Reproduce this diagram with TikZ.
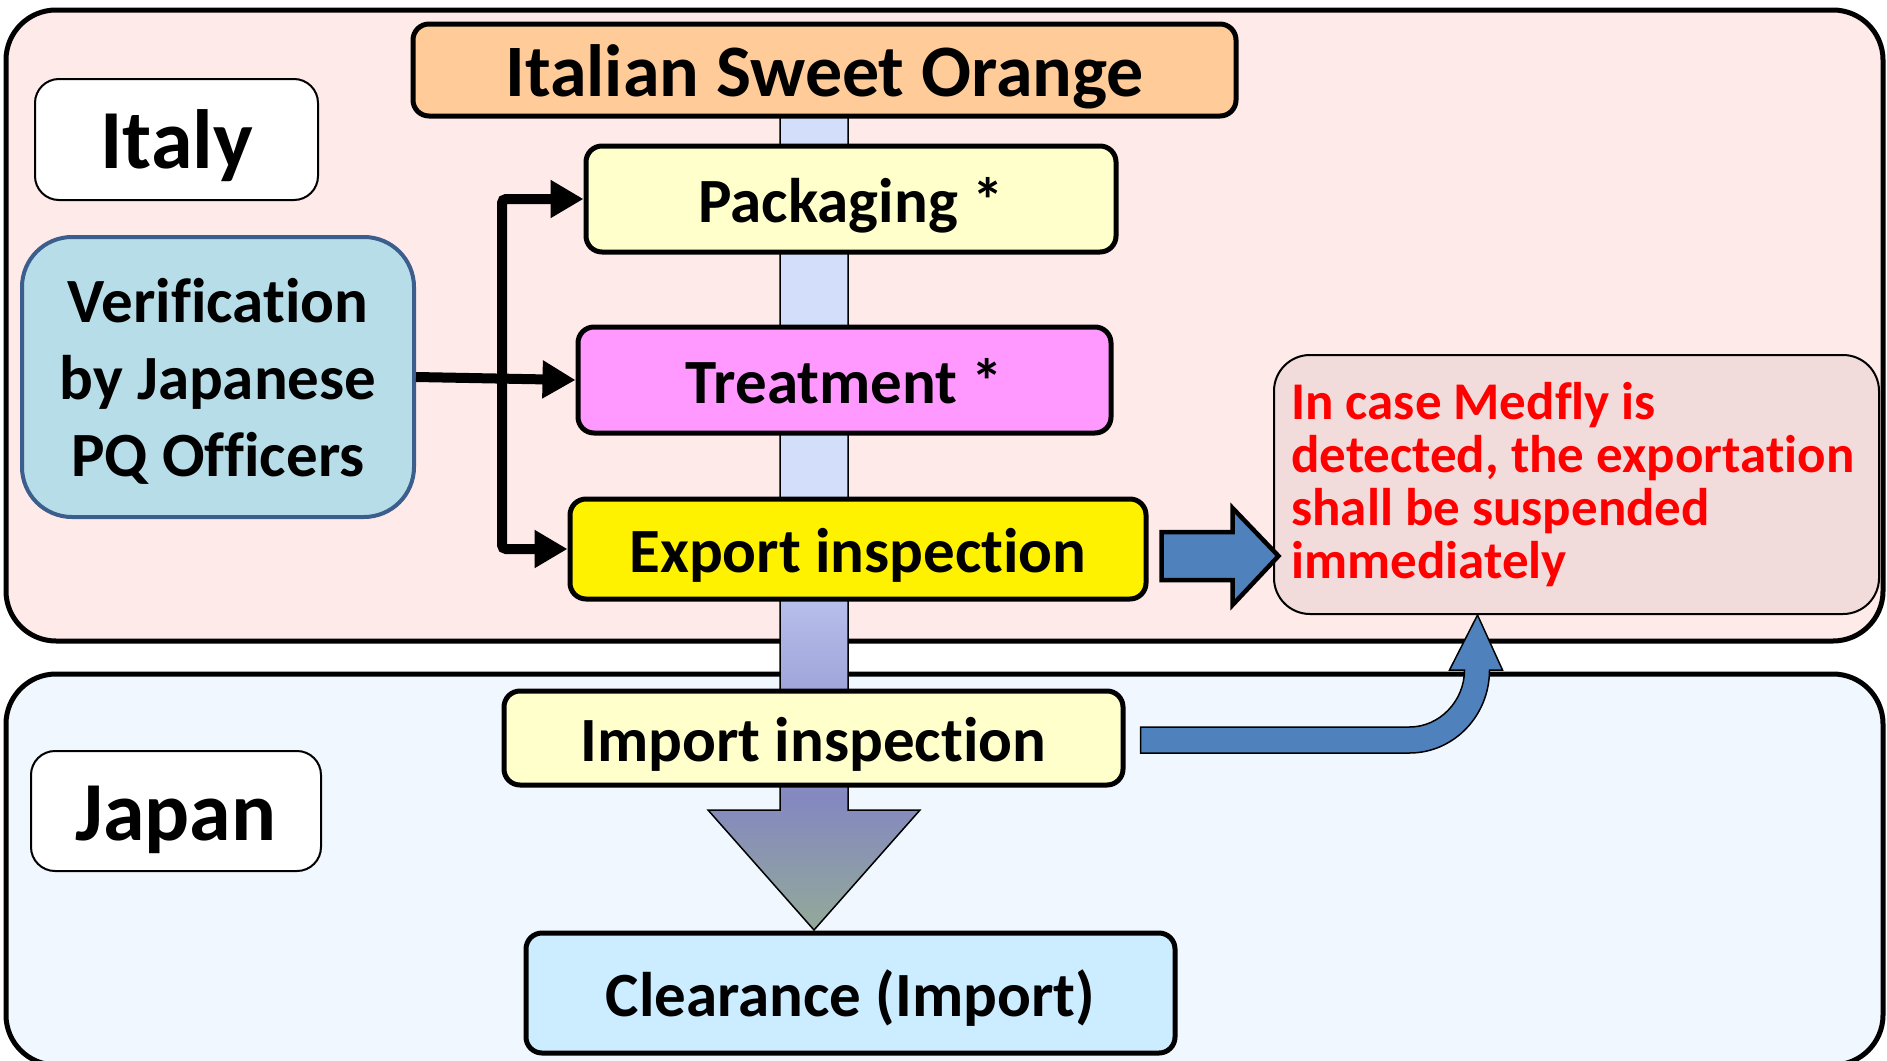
\documentclass[tikz,border=0pt]{standalone}
\usepackage{fontspec}
\setmainfont{Carlito}[Ligatures=NoCommon]
\usetikzlibrary{arrows.meta,calc}
\definecolor{italybg}{HTML}{FFEAEA}
\definecolor{japanbg}{HTML}{F0F7FF}
\definecolor{orangefill}{HTML}{FFCC99}
\definecolor{paleyellow}{HTML}{FFFFCC}
\definecolor{pinkfill}{HTML}{FF99FF}
\definecolor{clearfill}{HTML}{CCECFF}
\definecolor{verifill}{HTML}{B7DEE8}
\definecolor{veriline}{HTML}{3B5E8C}
\definecolor{medflyfill}{HTML}{F2DCDB}
\definecolor{arrowblue}{HTML}{4F81BD}
\definecolor{fsA}{HTML}{93AA98}
\definecolor{fsB}{HTML}{8488C0}
\definecolor{fsC}{HTML}{A0A6DA}
\definecolor{fsD}{HTML}{B8C0EC}
\definecolor{fsE}{HTML}{D2DEFA}
\pgfdeclareverticalshading{flowshade}{100bp}{color(0bp)=(fsA); color(25bp)=(fsA); color(33bp)=(fsB); color(39.75bp)=(fsC); color(45.25bp)=(fsD); color(51.4bp)=(fsE); color(75bp)=(fsE); color(100bp)=(fsE)}
\begin{document}
\begin{tikzpicture}[x=1pt,y=-1pt,
  panel/.style={draw=black, line width=5pt, rounded corners=50pt, inner sep=0pt},
  tag/.style={draw=black, fill=white, line width=2pt, rounded corners=24pt, inner sep=0pt,
    text height=58pt, text depth=0pt, font=\fontsize{84}{100}\selectfont\bfseries},
  stepbox/.style={draw=black, line width=5pt, rounded corners=16pt, inner sep=0pt,
    text height=46pt, text depth=0pt, font=\fontsize{63}{77}\selectfont\bfseries},
  conn/.style={line width=10pt, black, -{Triangle[length=33pt,width=36pt]}},
  blockarrow/.style={fill=arrowblue, draw=black, line join=miter}
]
\useasboundingbox (0,0) rectangle (1887,1060);

% zones
\node[panel, fill=italybg, minimum width=1877pt, minimum height=631pt] (italyzone) at (944.5,325.5) {};
\node[panel, fill=japanbg, minimum width=1877pt, minimum height=391pt] (japanzone) at (944.5,869.5) {};

% zone tags
\node[tag, minimum width=283pt, minimum height=121pt] (italytag) at (176.5,139.5) {Italy};
\node[tag, minimum width=290pt, minimum height=120pt] (japantag) at (176,811) {Japan};

% main flow arrow
\coordinate (flowaxis) at (814,0);
\begin{scope}[shift={(flowaxis)}]
\draw[shading=flowshade, draw=black, line width=1.5pt]
  (-34,105) -- (-34,810) -- (-106,810) -- (0,930) -- (106,810) -- (34,810) -- (34,105) -- cycle;
\end{scope}

% steps
\node[stepbox, fill=orangefill, minimum width=823pt, minimum height=92pt, text height=52pt,
  font=\fontsize{74}{88}\selectfont\bfseries] (orange) at (824.5,70) {Italian Sweet Orange};
\node[stepbox, fill=paleyellow, minimum width=530pt, minimum height=106pt] (pack) at (851,199) {Packaging *};
\node[stepbox, fill=pinkfill, minimum width=533pt, minimum height=106pt] (treat) at (844.5,380) {Treatment *};
\node[stepbox, fill=yellow, minimum width=576pt, minimum height=100pt] (export) at (858,549) {Export inspection};
\node[stepbox, fill=paleyellow, minimum width=619pt, minimum height=94pt] (import) at (813.5,738) {Import inspection};
\node[stepbox, fill=clearfill, minimum width=649pt, minimum height=120pt] (clear) at (850.5,993) {Clearance (Import)};

% verification
\node[draw=veriline, fill=verifill, line width=4pt, rounded corners=50pt, inner sep=0pt,
  minimum width=392pt, minimum height=280pt] (verif) at (218,377) {};
\node[align=center, inner sep=0pt, font=\fontsize{63}{77}\selectfont\bfseries]
  (veriftext) at ($(verif.center)+(0,4)$) {Verification\\by Japanese\\PQ Officers};

% medfly note
\node[draw=black, fill=medflyfill, line width=2pt, rounded corners=36pt, inner sep=0pt,
  minimum width=605pt, minimum height=259pt] (medfly) at (1576.5,484.5) {};
\node[anchor=west, align=left, inner sep=0pt, text=red,
  font=\fontsize{53}{53}\selectfont\bfseries] (medflytext) at ($(medfly.west)+(18,0)$)
  {In case Medfly is\\detected, the exportation\\shall be suspended\\immediately};

% black connectors
\coordinate (bus) at ($(verif.east)+(86,0)$);
\draw[conn] (verif.east) -- (treat.west);
\draw[conn, rounded corners=4pt] (bus) |- (pack.west);
\draw[conn, rounded corners=4pt] (bus) |- (export.west);

% blue arrow export -> medfly
\coordinate (ea) at ($(export.east)+(13,7)$);
\begin{scope}[shift={(ea)}]
\draw[blockarrow, line width=4.5pt]
  (0,-24) -- (71,-24) -- (71,-48) -- (117,0) -- (71,49) -- (71,24) -- (0,24) -- cycle;
\end{scope}

% curved blue arrow import -> medfly
\coordinate (ia) at ($(import.east)+(15,2)$);
\begin{scope}[shift={(ia)}]
\draw[blockarrow, line width=1.5pt]
  (0,-13) -- (269,-13) .. controls (299,-13) and (324,-39) .. (324,-70)
  -- (309,-70) -- (337,-125) -- (362,-70) -- (349,-70)
  .. controls (349,-24) and (313,13) .. (269,13) -- (0,13) -- cycle;
\end{scope}
\end{tikzpicture}
\end{document}
